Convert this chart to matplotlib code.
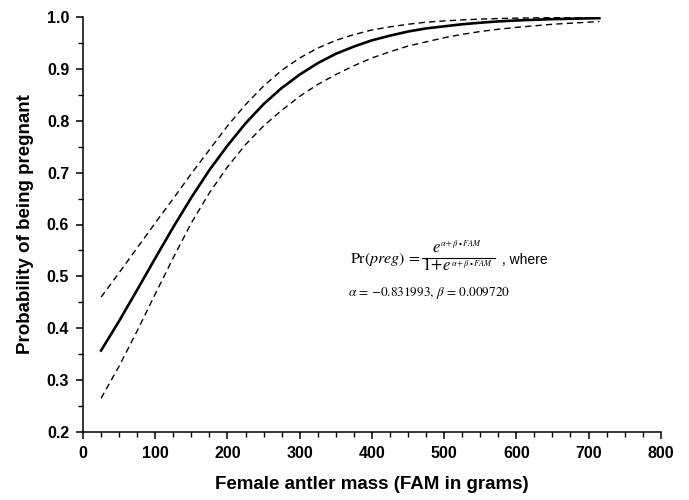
#!/usr/bin/env python3

import matplotlib
matplotlib.use("Agg")
import matplotlib.pyplot as plt
from matplotlib.lines import Line2D
from matplotlib.ticker import MultipleLocator

# Female antler mass (g) and values
fam = [25, 50, 75, 100, 125, 150, 175, 200, 225, 250, 275, 300, 325, 350,
       375, 400, 425, 450, 475, 500, 525, 550, 575, 600, 650, 715]
pr_fit = [0.357, 0.414, 0.474, 0.535, 0.595, 0.652, 0.705, 0.752, 0.795,
          0.832, 0.863, 0.889, 0.911, 0.929, 0.943, 0.955, 0.964, 0.972,
          0.978, 0.982, 0.986, 0.989, 0.9915, 0.9933, 0.9959, 0.9978]
pr_upper = [0.460, 0.507, 0.555, 0.603, 0.650, 0.698, 0.744, 0.790, 0.831,
            0.867, 0.897, 0.921, 0.940, 0.955, 0.966, 0.975, 0.981, 0.986,
            0.990, 0.9924, 0.9944, 0.9959, 0.9970, 0.9978, 0.9988, 0.9994]
pr_lower = [0.265, 0.327, 0.395, 0.466, 0.536, 0.603, 0.661, 0.711, 0.754,
            0.790, 0.820, 0.847, 0.870, 0.889, 0.906, 0.921, 0.933, 0.944,
            0.952, 0.960, 0.9665, 0.972, 0.9764, 0.980, 0.986, 0.9913]

plt.rcParams["font.family"] = ["Liberation Sans", "DejaVu Sans"]
plt.rcParams["mathtext.fontset"] = "stix"

W, H = 689, 500
fig = plt.figure(figsize=(W / 100, H / 100), dpi=100)
ax = fig.add_axes([0.1205, 0.136, 0.8385, 0.83])

# Fitted curve and confidence limits
ax.plot(fam, pr_fit, "-", color="black", lw=1.9, solid_joinstyle="round")
ax.plot(fam, pr_upper, color="black", lw=1.0, dashes=(4.5, 3))
ax.plot(fam, pr_lower, color="black", lw=1.0, dashes=(4.5, 3))

ax.set_xlim(0, 800)
ax.set_ylim(0.2, 1.0)
ax.xaxis.set_major_locator(MultipleLocator(100))
ax.xaxis.set_minor_locator(MultipleLocator(25))
ax.yaxis.set_major_locator(MultipleLocator(0.1))
ax.yaxis.set_minor_locator(MultipleLocator(0.05))
ax.yaxis.set_major_formatter(plt.FormatStrFormatter("%.1f"))

for s in ["top", "right"]:
    ax.spines[s].set_visible(False)
for s in ["left", "bottom"]:
    ax.spines[s].set_linewidth(1.1)

ax.tick_params(which="major", direction="out", length=5, width=1.1,
               labelsize=11.5, pad=5)
ax.tick_params(which="minor", direction="out", length=3.5, width=1.0)
for lab in ax.get_xticklabels() + ax.get_yticklabels():
    lab.set_fontweight("bold")

ax.set_xlabel("Female antler mass (FAM in grams)", fontsize=13.5,
              fontweight="bold", labelpad=11)
ax.set_ylabel("Probability of being pregnant", fontsize=13.5,
              fontweight="bold", labelpad=9)


def ftext(px, py, s, size, **kw):
    # place text by pixel position from the top-left corner (baseline)
    kw.setdefault("family", "STIXGeneral")
    fig.text(px / W, 1 - py / H, s, fontsize=size, va="baseline",
             ha="left", **kw)


# Model equation, built from pieces so the exponents stay small
expo = r"$\alpha+\beta\bullet FAM$"
ftext(350, 263.5, r"Pr($preg$) =", 11.5)
ftext(432, 252, r"$e$", 12)
ftext(440.5, 246.5, expo, 6)
fig.add_artist(Line2D([422 / W, 495 / W], [1 - 258 / H, 1 - 258 / H],
                      color="black", lw=0.8))
ftext(422, 269.5, "1", 12)
ftext(430.5, 269.5, "+", 12)
ftext(442, 269.5, r"$e$", 12)
ftext(451, 265.5, expo, 6)
ftext(502, 264, ", where", 10, family="Liberation Sans")
ftext(348, 296, r"$\alpha$ = $-$0.831993, $\beta$ = 0.009720", 9.5)

plt.savefig("out.png", format="png", dpi=100)
